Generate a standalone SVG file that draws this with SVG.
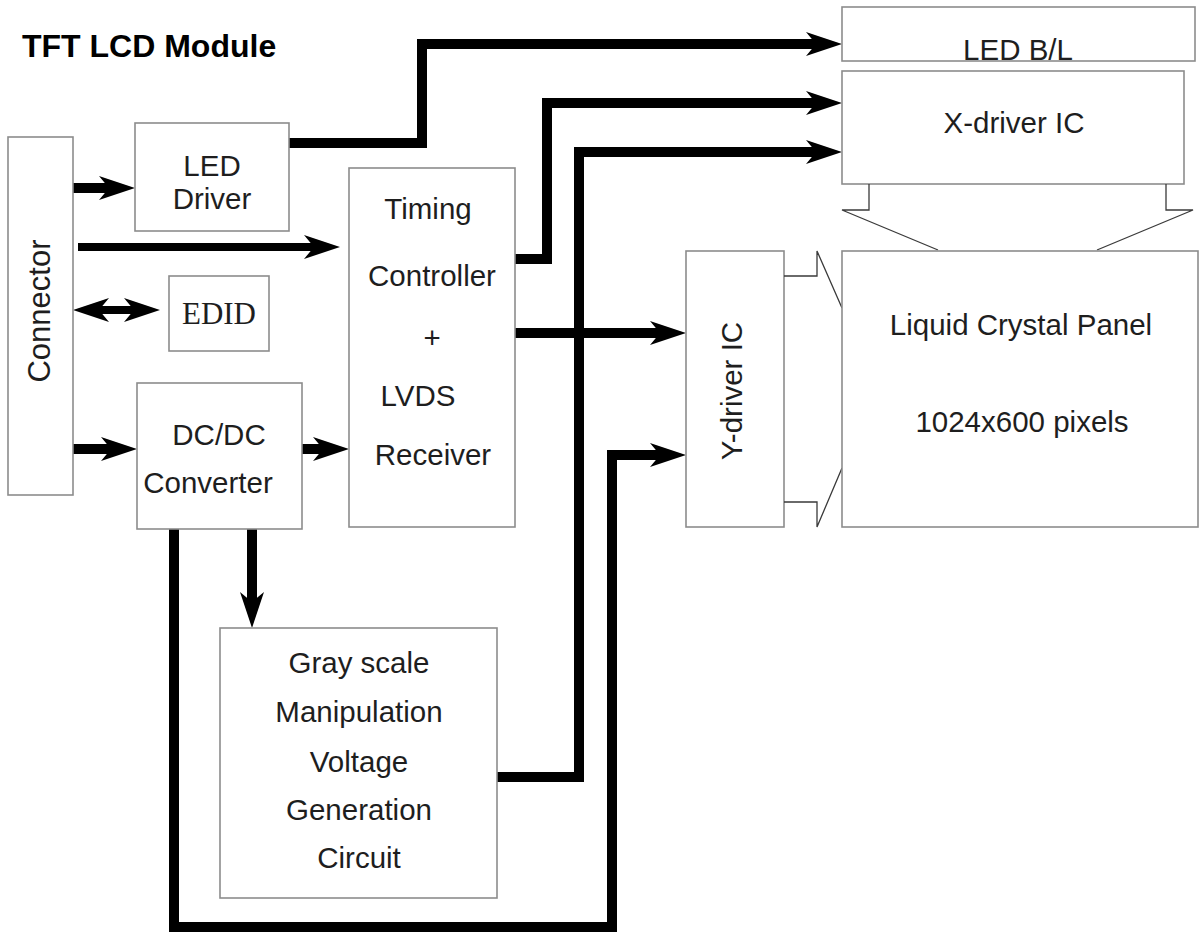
<svg xmlns="http://www.w3.org/2000/svg" width="1200" height="934" viewBox="0 0 1200 934">
<style>
.box{fill:#fff;stroke:#8c8c8c;stroke-width:1.6}
.t{font-family:"Liberation Sans",Arial,sans-serif;font-size:29.5px;fill:#1e1e1e;text-anchor:middle}
.tab{fill:none;stroke:#3a3a3a;stroke-width:1.3}
.w{fill:none;stroke:#000;stroke-width:10;stroke-linejoin:miter}
.n{fill:none;stroke:#000;stroke-width:8}
</style>
<defs>
<marker id="ah" markerUnits="userSpaceOnUse" viewBox="-12 -14 40 28" markerWidth="40" markerHeight="28" refX="0" refY="0" orient="auto" overflow="visible">
<path d="M26,0 L-10,-12 L0,0 L-10,12 Z" fill="#000"/>
</marker>
<marker id="ahs" markerUnits="userSpaceOnUse" viewBox="-12 -14 40 28" markerWidth="40" markerHeight="28" refX="0" refY="0" orient="auto-start-reverse" overflow="visible">
<path d="M26,0 L-10,-12 L0,0 L-10,12 Z" fill="#000"/>
</marker>
</defs>
<rect width="1200" height="934" fill="#fff"/>
<text x="22" y="57" style="font-family:'Liberation Sans',Arial,sans-serif;font-weight:bold;font-size:32px;fill:#000">TFT LCD Module</text>

<g id="connectors">
<polyline class="w" points="289,143 422,143 422,44 816,44" marker-end="url(#ah)"/>
<polyline class="w" points="515,259 547,259 547,103 816,103" marker-end="url(#ah)"/>
<polyline class="w" points="497,777 579,777 579,152 816,152" marker-end="url(#ah)"/>
<polyline class="w" points="174,529 174,927 612,927 612,455 660,455" marker-end="url(#ah)"/>
<line class="w" x1="515" y1="333" x2="660" y2="333" marker-end="url(#ah)"/>
<line class="w" x1="73" y1="188" x2="109" y2="188" marker-end="url(#ah)"/>
<line class="n" x1="78" y1="247" x2="314" y2="247" marker-end="url(#ah)"/>
<line class="n" x1="99" y1="310" x2="134" y2="310" marker-start="url(#ahs)" marker-end="url(#ahs)"/>
<line class="w" x1="73" y1="449" x2="111" y2="449" marker-end="url(#ah)"/>
<line class="w" x1="302" y1="449" x2="323" y2="449" marker-end="url(#ah)"/>
<line class="w" x1="252" y1="529" x2="252" y2="602" marker-end="url(#ah)"/>
</g>

<g id="connector">
<rect class="box" x="8" y="137" width="65" height="358"/>
<text class="t" style="font-size:31px" transform="translate(50,311) rotate(-90)">Connector</text>
</g>
<g id="led-driver">
<rect class="box" x="135" y="123" width="154" height="108"/>
<text class="t" x="212" y="176">LED</text>
<text class="t" x="212" y="209">Driver</text>
</g>
<g id="edid">
<rect class="box" x="169" y="276" width="100" height="75"/>
<text x="219" y="324" style="font-family:'Liberation Serif','Times New Roman',serif;font-size:31px;fill:#1e1e1e;text-anchor:middle">EDID</text>
</g>
<g id="dcdc">
<rect class="box" x="137" y="383" width="165" height="146"/>
<text class="t" x="219" y="445">DC/DC</text>
<text class="t" x="208" y="493">Converter</text>
</g>
<g id="timing">
<rect class="box" x="349" y="168" width="166" height="359"/>
<text class="t" x="428" y="219">Timing</text>
<text class="t" x="432" y="286">Controller</text>
<text class="t" x="432" y="348">+</text>
<text class="t" x="418" y="406">LVDS</text>
<text class="t" x="433" y="465">Receiver</text>
</g>
<g id="grayscale">
<rect class="box" x="220" y="628" width="277" height="270"/>
<text class="t" x="359" y="673">Gray scale</text>
<text class="t" x="359" y="722">Manipulation</text>
<text class="t" x="359" y="772">Voltage</text>
<text class="t" x="359" y="820">Generation</text>
<text class="t" x="359" y="868">Circuit</text>
</g>
<g id="led-bl">
<rect class="box" x="842" y="7" width="353" height="54"/>
<text class="t" x="1018" y="60">LED B/L</text>
</g>
<g id="x-driver">
<rect class="box" x="842" y="71" width="342" height="113"/>
<text class="t" x="1014" y="133">X-driver IC</text>
<polyline class="tab" points="869,184 869,210 842,210 938,250"/>
<polyline class="tab" points="1166,184 1166,210 1193,210 1097,250"/>
</g>
<g id="y-driver">
<rect class="box" x="686" y="251" width="98" height="276"/>
<text class="t" transform="translate(742,391) rotate(-90)">Y-driver IC</text>
<polyline class="tab" points="784,276 817,276 817,251 842,308"/>
<polyline class="tab" points="784,502 817,502 817,527 842,468"/>
</g>
<g id="panel">
<rect class="box" x="842" y="251" width="356" height="276"/>
<text class="t" x="1021" y="335">Liquid Crystal Panel</text>
<text class="t" x="1022" y="432">1024x600 pixels</text>
</g>
</svg>
